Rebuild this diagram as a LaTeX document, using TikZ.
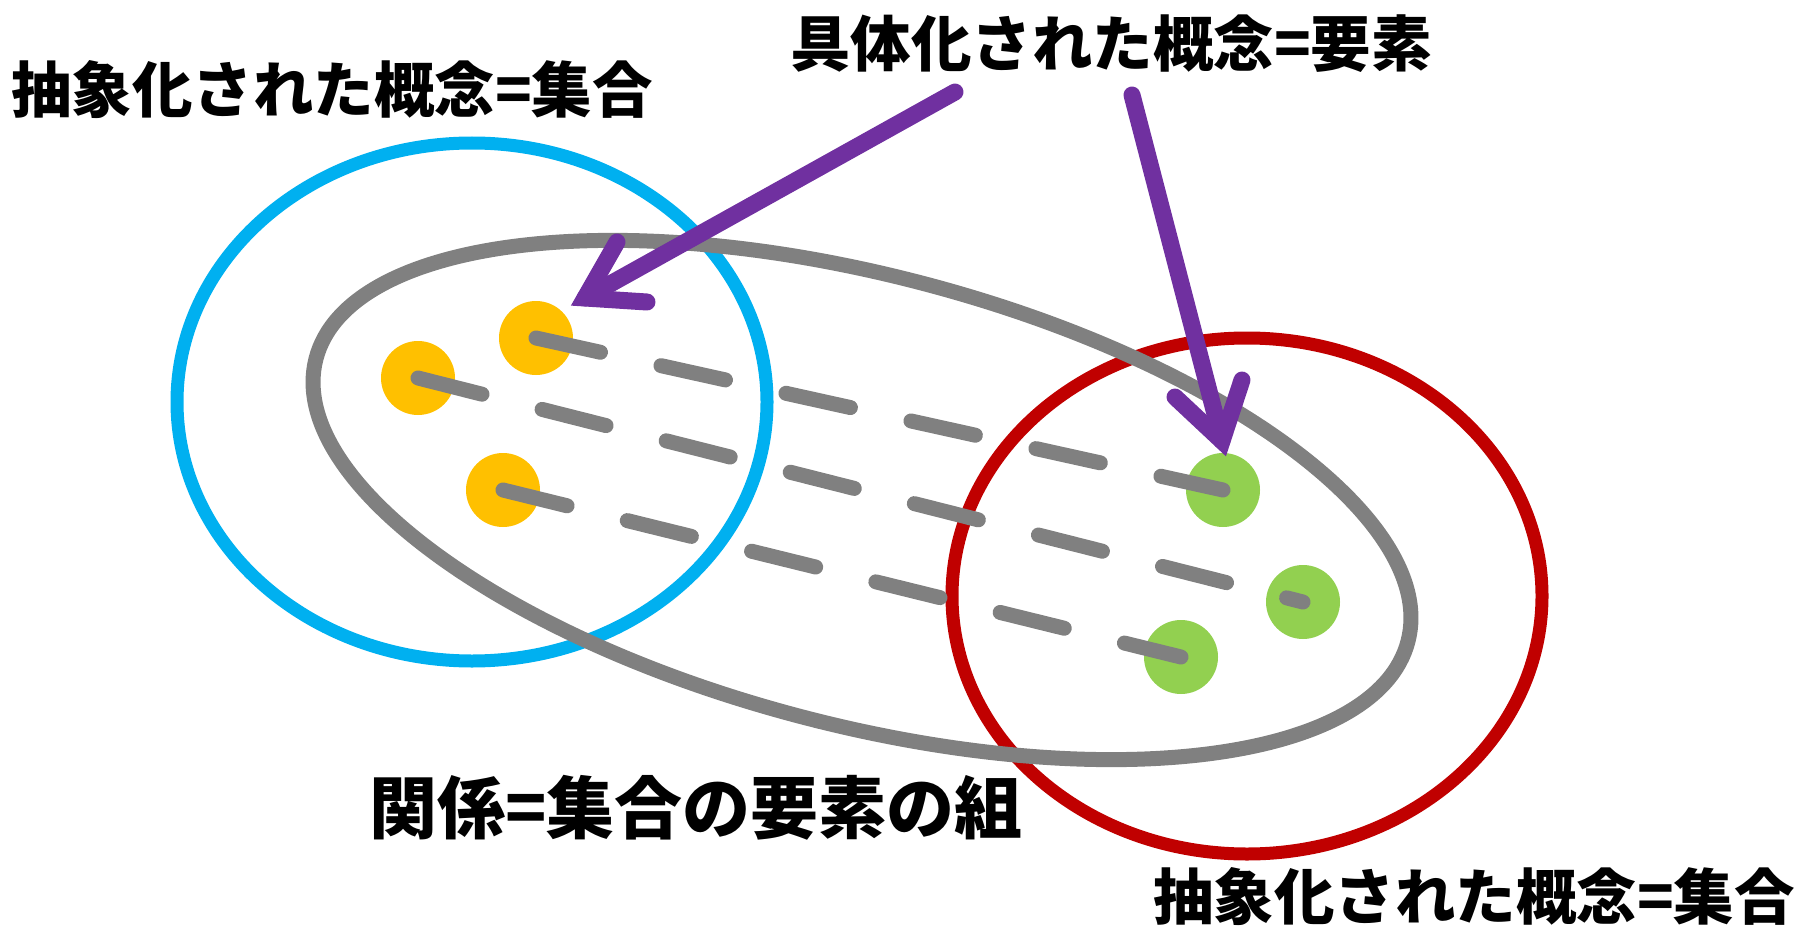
\documentclass[tikz,border=0pt]{standalone}
\usepackage{fontspec}
\setmainfont{Noto Sans CJK JP}
\definecolor{setblue}{HTML}{00B0F0}
\definecolor{setred}{HTML}{C00000}
\definecolor{relgray}{HTML}{808080}
\definecolor{elemyellow}{HTML}{FFC000}
\definecolor{elemgreen}{HTML}{92D050}
\definecolor{arrowpurple}{HTML}{7030A0}
\begin{document}
\begin{tikzpicture}[x=1pt,y=-1pt,
  setline/.style={line width=13pt},
  relline/.style={line width=15pt, draw=relgray},
  dot/.style={circle, inner sep=0pt, minimum size=74pt, draw=none},
  pairline/.style={draw=relgray, line width=15pt, line cap=round, dash pattern=on 66pt off 62pt},
  arrowline/.style={draw=arrowpurple, line width=17pt, line cap=round, line join=miter},
  lbl/.style={inner sep=0pt, font=\fontsize{60.5}{66}\selectfont\bfseries},
  biglbl/.style={inner sep=0pt, font=\fontsize{68}{74}\selectfont\bfseries}]
\useasboundingbox (0,0) rectangle (1815,939);
% sets
\draw[setline, draw=setblue] (472,402) ellipse [x radius=295pt, y radius=259pt];
\draw[setline, draw=setred] (1247,596) ellipse [x radius=295pt, y radius=258pt];
% relation
\draw[relline] (862,500) ellipse [x radius=564pt, y radius=225pt, rotate=-14.5];
% elements
\node[dot, fill=elemyellow] (y1) at (536,338) {};
\node[dot, fill=elemyellow] (y2) at (418,378) {};
\node[dot, fill=elemyellow] (y3) at (503,490) {};
\node[dot, fill=elemgreen] (g1) at (1223,490) {};
\node[dot, fill=elemgreen] (g2) at (1303,602) {};
\node[dot, fill=elemgreen] (g3) at (1181,657) {};
% pairs
\draw[pairline] (y1.center) -- (g1.center);
\draw[pairline] (y2.center) -- (g2.center);
\draw[pairline] (y3.center) -- (g3.center);
% labels
\node[lbl] (abs1) at (332,90) {抽象化された概念=集合};
\node[lbl] (conc) at (1111,44) {具体化された概念=要素};
\node[biglbl] (rel) at (696,808) {関係=集合の要素の組};
\node[lbl] (abs2) at (1474,897) {抽象化された概念=集合};
% arrows
\coordinate (a1s) at (955,92);
\coordinate (a1t) at (585,298);
\coordinate (a1b) at (617,242);
\coordinate (a1c) at (647,302);
\coordinate (a2s) at (1132,95);
\coordinate (a2t) at (1222,441);
\coordinate (a2b) at (1175,397);
\coordinate (a2c) at (1242,380);
\draw[arrowline] (a1s) -- (a1t);
\draw[arrowline] (a1b) -- (a1t) -- (a1c);
\draw[arrowline] (a2s) -- (a2t);
\draw[arrowline] (a2b) -- (a2t) -- (a2c);
\end{tikzpicture}
\end{document}
